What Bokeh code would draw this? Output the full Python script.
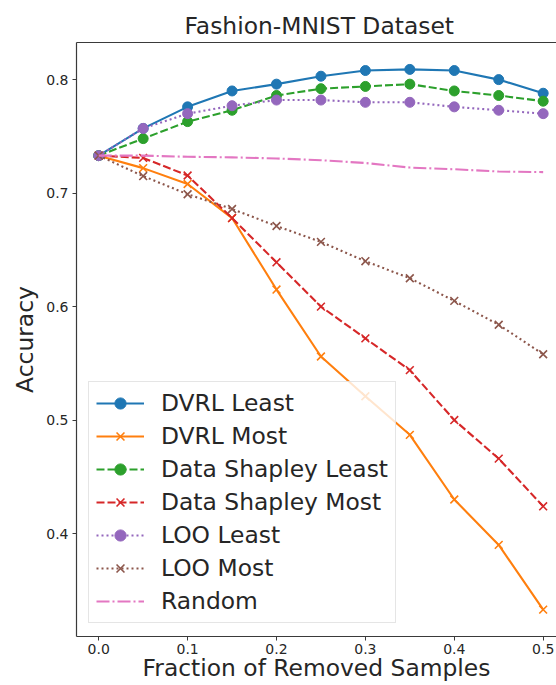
from bokeh.plotting import figure
from bokeh.models import FixedTicker, LinearAxis, Range1d, PrintfTickFormatter
from bokeh.embed import file_html
from bokeh.resources import INLINE

# ---- data ----
fractions = [0.0, 0.05, 0.1, 0.15, 0.2, 0.25, 0.3, 0.35, 0.4, 0.45, 0.5]
dvrl_least = [0.733, 0.757, 0.776, 0.790, 0.796, 0.803, 0.808, 0.809, 0.808, 0.800, 0.788]
dvrl_most = [0.733, 0.722, 0.708, 0.678, 0.615, 0.556, 0.521, 0.487, 0.430, 0.390, 0.333]
ds_least = [0.733, 0.748, 0.763, 0.773, 0.786, 0.792, 0.794, 0.796, 0.790, 0.786, 0.781]
ds_most = [0.733, 0.731, 0.7155, 0.678, 0.639, 0.600, 0.572, 0.544, 0.500, 0.466, 0.424]
loo_least = [0.733, 0.757, 0.770, 0.777, 0.782, 0.782, 0.780, 0.780, 0.776, 0.773, 0.770]
loo_most = [0.733, 0.715, 0.699, 0.686, 0.671, 0.657, 0.640, 0.625, 0.605, 0.584, 0.558]
random_sel = [0.733, 0.733, 0.732, 0.7315, 0.7305, 0.729, 0.7265, 0.7225, 0.721, 0.719, 0.7185]

x_ticks = [0.0, 0.1, 0.2, 0.3, 0.4, 0.5]
y_ticks = [0.4, 0.5, 0.6, 0.7, 0.8]

series = [
    ("DVRL Least", dvrl_least, "#1f77b4", "solid", "circle"),
    ("DVRL Most", dvrl_most, "#ff7f0e", "solid", "x"),
    ("Data Shapley Least", ds_least, "#2ca02c", "8 3", "circle"),
    ("Data Shapley Most", ds_most, "#d62728", "8 3", "x"),
    ("LOO Least", loo_least, "#9467bd", "2 3", "circle"),
    ("LOO Most", loo_most, "#8c564b", "2 3", "x"),
    ("Random", random_sel, "#e377c2", "13 3 2 3", None),
]

FONT = "DejaVu Sans"
TXT = "#262626"
AX = "#3a3a3a"
BIG = "23.4px"

p = figure(width=556, height=685,
           x_range=Range1d(-0.025, 0.515), y_range=Range1d(0.3093, 0.8327),
           output_backend="svg", toolbar_location=None,
           min_border_left=76, min_border_right=0, min_border_top=42, min_border_bottom=49)

p.outline_line_color = None
p.xgrid.visible = False
p.ygrid.visible = False
p.background_fill_color = "white"
p.border_fill_color = "white"

p.title.text = "Fashion-MNIST Dataset"
p.title.align = "left"
p.title.offset = 108
p.title.text_font = FONT
p.title.text_font_size = BIG
p.title.text_font_style = "normal"
p.title.text_color = TXT
p.title.standoff = 6

for ax, ticks in ((p.xaxis, x_ticks), (p.yaxis, y_ticks)):
    ax.ticker = FixedTicker(ticks=ticks)
    ax.formatter = PrintfTickFormatter(format="%.1f")
    ax.major_tick_out = 4
    ax.major_tick_in = 0
    ax.minor_tick_line_color = None
    ax.major_tick_line_color = AX
    ax.axis_line_color = AX
    ax.axis_line_width = 1.2
    ax.major_label_text_font = FONT
    ax.major_label_text_font_size = "14px"
    ax.major_label_text_color = TXT
    ax.major_label_standoff = 4
    ax.axis_label_text_font = FONT
    ax.axis_label_text_font_size = BIG
    ax.axis_label_text_font_style = "normal"
    ax.axis_label_text_color = TXT
    ax.axis_label_standoff = 4

p.xaxis.major_label_standoff = 3
p.xaxis.axis_label_standoff = -3

p.xaxis.axis_label = "Fraction of Removed Samples"
p.yaxis.axis_label = "Accuracy"

top = LinearAxis(ticker=FixedTicker(ticks=[]), major_tick_line_color=None,
                 minor_tick_line_color=None, major_label_text_font_size="0px",
                 axis_line_color=AX, axis_line_width=1.2)
p.add_layout(top, "above")

for name, vals, color, dash, marker in series:
    p.line(fractions, vals, line_color=color, line_width=2.1, line_dash=dash,
           legend_label=name)
    if marker == "circle":
        p.scatter(fractions, vals, marker="circle", size=10, fill_color=color,
                  line_color=color, legend_label=name)
    elif marker == "x":
        p.scatter(fractions, vals, marker="x", size=11, line_color=color,
                  line_width=1.6, legend_label=name)

lg = p.legend[0]
lg.location = (12, 13)
lg.label_text_font = FONT
lg.label_text_font_size = BIG
lg.label_text_color = TXT
lg.glyph_width = 48
lg.glyph_height = 28
lg.label_height = 28
lg.spacing = 5
lg.padding = 7
lg.margin = 0
lg.label_standoff = 17
lg.border_line_color = "#cccccc"
lg.border_line_width = 1
lg.background_fill_color = "white"
lg.background_fill_alpha = 0.8

open("out.html", "w").write(file_html(p, INLINE))
